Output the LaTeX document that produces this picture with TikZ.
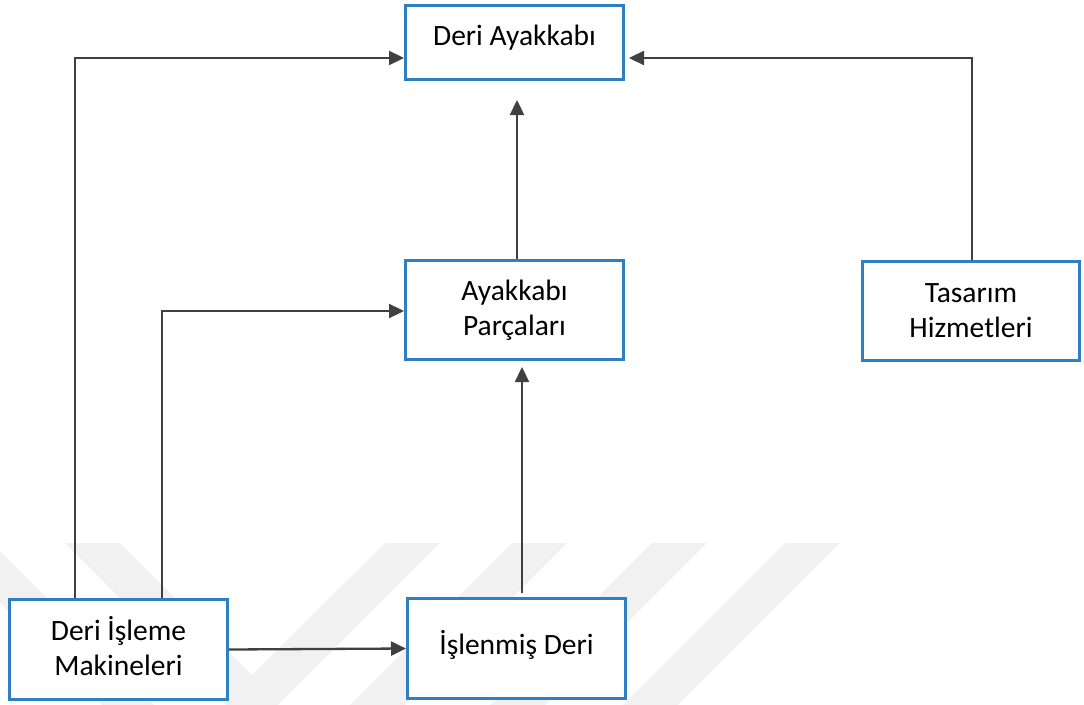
\documentclass[tikz,border=0pt]{standalone}
\usepackage{fontspec}
\setmainfont{Carlito}
\usetikzlibrary{arrows.meta}

\definecolor{boxblue}{RGB}{46,128,194}
\definecolor{linegray}{RGB}{64,64,64}
\definecolor{markgray}{RGB}{241,241,241}

\tikzset{
  box/.style={draw=boxblue, line width=3pt, fill=white, rectangle,
    align=center, inner sep=0pt, font=\fontsize{29.5}{35}\selectfont},
  conn/.style={draw=linegray, line width=2.3pt,
    -{Triangle[length=15pt,width=14pt]}},
  chevron/.style={fill=markgray, draw=none}
}
% invisible strut that lowers the centre of a text block
\newcommand{\dropby}[1]{\rule[-#1]{0pt}{#1}}

\begin{document}
\begin{tikzpicture}[x=1pt, y=-1pt]
  \useasboundingbox (0,0) rectangle (1084,704);

  % faint chevron watermark in the background
  \begin{scope}
    \clip (0,0) rectangle (1084,704);
    \fill[chevron] (-60,543) -- (-8,543) -- (192,743) -- (140,743) -- cycle;
    \fill[chevron] (65,543) -- (120,543) -- (252,675) -- (385,543) -- (440,543) -- (252,731) -- cycle;
    \fill[chevron] (512,543) -- (567,543) -- (367,743) -- (312,743) -- cycle;
    \fill[chevron] (652,543) -- (707,543) -- (507,743) -- (452,743) -- cycle;
    \fill[chevron] (785,543) -- (840,543) -- (640,743) -- (585,743) -- cycle;
  \end{scope}

  % boxes
  \node[box, minimum width=218pt, minimum height=74pt] (A) at (514.5,42.5)
    {\raisebox{15pt}{Deri Ayakkabı}};
  \node[box, minimum width=218pt, minimum height=99pt] (P) at (514.5,310)
    {Ayakkabı\\Parçaları};
  \node[box, minimum width=217pt, minimum height=99pt] (T) at (971,311)
    {Tasarım\\Hizmetleri};
  \node[box, minimum width=218pt, minimum height=100pt] (D) at (118.5,649.5)
    {Deri İşleme\\Makineleri\dropby{8pt}};
  \node[box, minimum width=218pt, minimum height=100pt] (I) at (516.5,648.5)
    {\raisebox{11.5pt}{İşlenmiş Deri}};

  % bend points of the connectors
  \coordinate (k1) at (75,58);
  \coordinate (k2) at (162,311);
  \coordinate (k4) at (522,0);
  \coordinate (k5) at (517,0);
  \coordinate (k6) at (972,0);

  % connectors
  \draw[conn] (D.north -| k1) |- (A.west |- k1);
  \draw[conn] (D.north -| k2) |- (P.west |- k2);
  \draw[conn] (D.east) -- (I.west);
  \draw[conn] ([yshift=4pt]I.north -| k4) -- ([yshift=-6pt]P.south -| k4);
  \draw[conn] (P.north -| k5) -- ([yshift=-19pt]A.south -| k5);
  \draw[conn] (T.north -| k6) |- ([xshift=4pt]A.east |- k1);
\end{tikzpicture}
\end{document}
